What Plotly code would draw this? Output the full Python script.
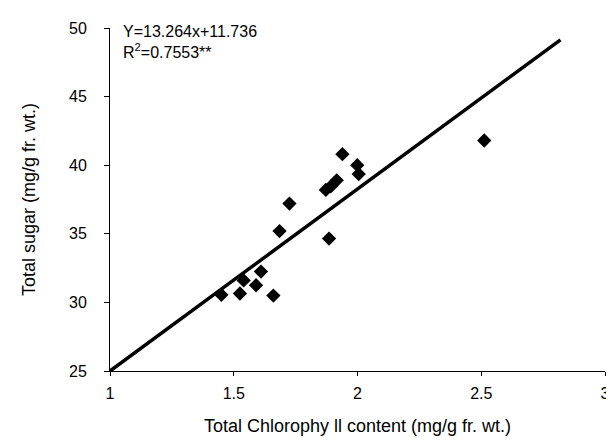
import plotly.graph_objects as go

# Data
chlorophyll = [1.45, 1.525, 1.54, 1.59, 1.61, 1.66, 1.685, 1.725,
               1.872, 1.892, 1.916, 1.885, 1.939, 1.999, 2.005, 2.512]
sugar = [30.55, 30.65, 31.6, 31.25, 32.25, 30.5, 35.2, 37.2,
         38.2, 38.45, 38.9, 34.65, 40.8, 40.0, 39.35, 41.8]

slope = 13.264
intercept = 11.736
fit_x = [1.0, 2.82]
fit_y = [slope * v + intercept for v in fit_x]

x_ticks = [1, 1.5, 2, 2.5, 3]
x_tick_labels = ["1", "1.5", "2", "2.5", "3"]
y_ticks = [25, 30, 35, 40, 45, 50]
y_tick_labels = ["25", "30", "35", "40", "45", "50"]

font_family = "Liberation Sans, Arial, sans-serif"

fig = go.Figure()
fig.add_trace(go.Scatter(
    x=fit_x, y=fit_y, mode="lines",
    line=dict(color="black", width=3.5),
    showlegend=False, hoverinfo="skip"))
fig.add_trace(go.Scatter(
    x=chlorophyll, y=sugar, mode="markers",
    marker=dict(symbol="diamond", size=11, color="black"),
    showlegend=False))

fig.add_annotation(
    xref="paper", yref="paper", x=0.022, y=1.02,
    xanchor="left", yanchor="top", align="left", showarrow=False,
    text="Y=13.264x+11.736<br>R<sup>2</sup>=0.7553**",
    font=dict(family=font_family, size=16, color="black"))

fig.update_layout(
    width=614, height=441,
    margin=dict(l=102, r=12, t=16, b=78),
    paper_bgcolor="white", plot_bgcolor="white",
    font=dict(family=font_family, size=16, color="black"),
)
fig.update_xaxes(
    range=[1, 3], tickvals=x_ticks, ticktext=x_tick_labels,
    showgrid=False, zeroline=False, showline=True, linecolor="black",
    linewidth=1, ticks="outside", ticklen=4, tickcolor="black",
    tickfont=dict(size=16), ticklabelstandoff=4,
    title=dict(text="Total Chlorophy ll content (mg/g fr. wt.)",
               font=dict(size=18), standoff=18))
fig.update_yaxes(
    range=[25, 50], tickvals=y_ticks, ticktext=y_tick_labels,
    showgrid=False, zeroline=False, showline=True, linecolor="black",
    linewidth=1, ticks="outside", ticklen=5, tickcolor="black",
    tickfont=dict(size=16), ticklabelstandoff=14,
    title=dict(text="Total sugar (mg/g fr. wt.)",
               font=dict(size=18), standoff=28))

fig.write_html("out.html")
